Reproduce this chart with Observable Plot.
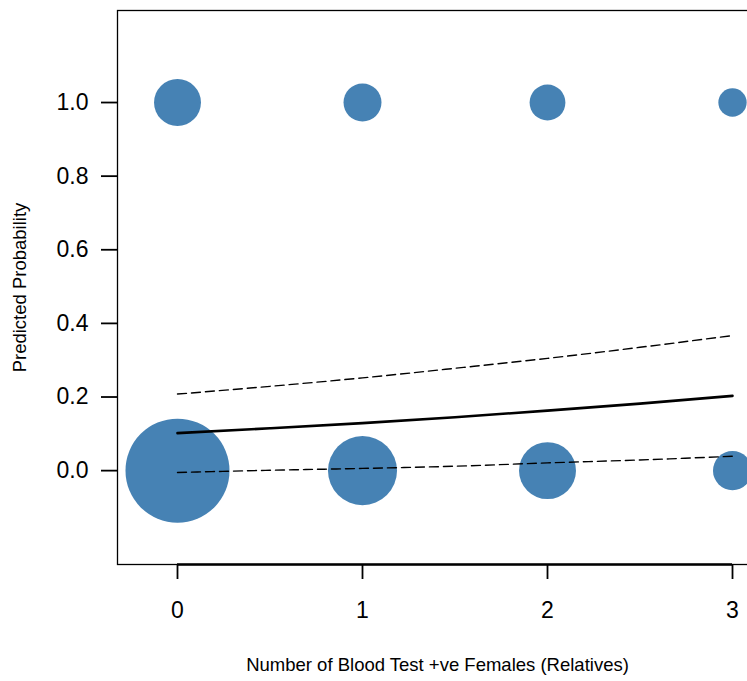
<!DOCTYPE html>
<html>
<head>
<meta charset="utf-8">
<script src="https://cdn.jsdelivr.net/npm/d3@7"></script>
<script src="https://cdn.jsdelivr.net/npm/@observablehq/plot@0.6"></script>
<style>
html, body { margin: 0; padding: 0; overflow: hidden; background: #fff; }
#chart svg { max-width: none !important; width: 760px !important; height: 681px !important; display: block; }
</style>
</head>
<body>
<div id="chart"></div>
<script>
// ---- data ----
const relatives = [0, 1, 2, 3];                 // number of blood test +ve females (relatives)
const countsOutcome0 = [270, 119, 81, 38];      // observed group weight at outcome 0
const countsOutcome1 = [55, 36, 32, 20];        // observed group weight at outcome 1

const curveX = [0, 0.5, 1, 1.5, 2, 2.5, 3];
const fitted = [0.102, 0.115, 0.129, 0.145, 0.163, 0.182, 0.203];
const upperCI = [0.208, 0.229, 0.252, 0.278, 0.305, 0.335, 0.367];
const lowerCI = [-0.005, 0.001, 0.006, 0.012, 0.021, 0.029, 0.039];

const xTicks = [0, 1, 2, 3];
const yTicks = [0, 0.2, 0.4, 0.6, 0.8, 1.0];
const xLabel = "Number of Blood Test +ve Females (Relatives)";
const yLabel = "Predicted Probability";

// ---- tables ----
const points = [
  ...relatives.map((x, i) => ({x, y: 0, n: countsOutcome0[i]})),
  ...relatives.map((x, i) => ({x, y: 1, n: countsOutcome1[i]}))
];
const curve = curveX.map((x, i) => ({x, fit: fitted[i], hi: upperCI[i], lo: lowerCI[i]}));

const xDomain = [-0.3243, 3.1351];
const yDomain = [-0.255, 1.25];
const font = "'Liberation Sans', Arial, Helvetica, sans-serif";

const chart = Plot.plot({
  width: 760,
  height: 681,
  marginLeft: 117,
  marginRight: 3,
  marginTop: 10,
  marginBottom: 117,
  style: {fontFamily: font, background: "white", color: "black", overflow: "hidden", maxWidth: "none"},
  x: {domain: xDomain},
  y: {domain: yDomain},
  r: {type: "sqrt", domain: [0, d3.max(points, d => d.n)], range: [0, 52]},
  marks: [
    Plot.dot(points, {x: "x", y: "y", r: "n", fill: "#4682b4", stroke: "none"}),
    Plot.line(curve, {x: "x", y: "hi", stroke: "black", strokeWidth: 1.4, strokeDasharray: "9,5", curve: "monotone-x"}),
    Plot.line(curve, {x: "x", y: "lo", stroke: "black", strokeWidth: 1.4, strokeDasharray: "9,5", curve: "monotone-x"}),
    Plot.line(curve, {x: "x", y: "fit", stroke: "black", strokeWidth: 2.6, curve: "monotone-x"}),
    Plot.frame({stroke: "black", strokeWidth: 1.3}),
    Plot.ruleY([yDomain[0]], {x1: xTicks[0], x2: xTicks[xTicks.length - 1], stroke: "black", strokeWidth: 2.4}),
    Plot.axisX({ticks: xTicks, tickFormat: d => String(d), tickSize: 15, tickPadding: 22, fontSize: 23, strokeWidth: 1.8, label: null}),
    Plot.axisY({ticks: yTicks, tickFormat: d3.format(".1f"), tickSize: 16, tickPadding: 13, fontSize: 23, strokeWidth: 1.8, label: null}),
    Plot.text([xLabel], {frameAnchor: "bottom", dy: 106, fontSize: 18.5, fill: "black"}),
    Plot.text([yLabel], {frameAnchor: "left", textAnchor: "middle", dx: -97, rotate: -90, fontSize: 18.5, fill: "black"})
  ]
});

document.getElementById("chart").appendChild(chart);
</script>
</body>
</html>
